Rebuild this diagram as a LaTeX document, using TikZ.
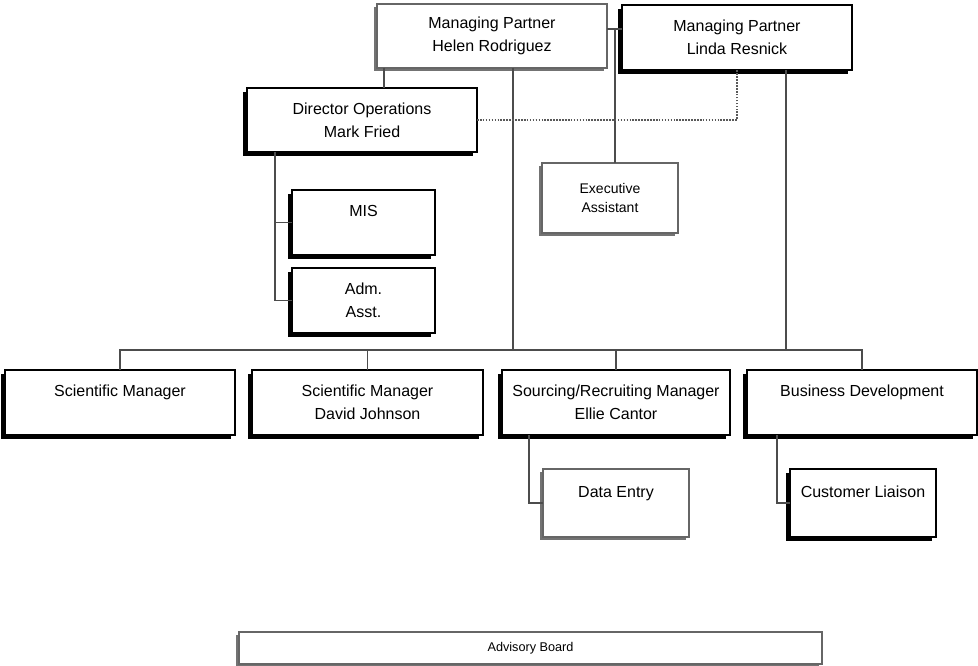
\documentclass[tikz,border=0pt]{standalone}
\usepackage{fontspec}
\setmainfont{Liberation Sans}
\usetikzlibrary{shadows}
\begin{document}
\begin{tikzpicture}[x=0.75pt,y=-0.75pt,
  base/.style={rectangle,inner sep=0pt,outer sep=0pt,align=center,fill=white,
    font=\fontsize{12}{17}\selectfont},
  darkbox/.style={base,draw=black,line width=1.1pt,
    general shadow={fill=black,shadow xshift=-3pt,shadow yshift=-3pt}},
  greybox/.style={base,draw=black!60,line width=1.1pt,
    general shadow={fill=black!55,shadow xshift=-2.5pt,shadow yshift=-2.5pt}},
  conn/.style={draw=black!70,line width=0.9pt},
  dotconn/.style={draw=black!65,line width=0.8pt,dash pattern=on 1.2pt off 1pt}]
\useasboundingbox[fill=white] (0,0) rectangle (978,666);

% top level
\node[greybox,minimum width=172.5pt,minimum height=48pt] (Helen) at (492,36) {Managing Partner\\Helen Rodriguez};
\node[darkbox,minimum width=172.5pt,minimum height=48.75pt] (Linda) at (737,37.5) {Managing Partner\\Linda Resnick};

% second level
\node[darkbox,minimum width=172.5pt,minimum height=48pt] (Dir) at (362,120) {Director Operations\\Mark Fried};
\node[greybox,minimum width=102pt,minimum height=52.5pt,font=\fontsize{10.5}{14}\selectfont] (Exec) at (610,198) {Executive\\Assistant};
\node[darkbox,minimum width=107.25pt,minimum height=48.75pt] (MIS) at (363.5,222.5) {MIS\\\mbox{}};
\node[darkbox,minimum width=107.25pt,minimum height=48.75pt] (Adm) at (363.5,300.5) {Adm.\\Asst.};

% managers
\node[darkbox,minimum width=172.5pt,minimum height=48.75pt] (Sci1) at (120,402.5) {Scientific Manager\\\mbox{}};
\node[darkbox,minimum width=173.25pt,minimum height=48.75pt] (Sci2) at (367.5,402.5) {Scientific Manager\\David Johnson};
\node[darkbox,minimum width=171pt,minimum height=48.75pt] (Src) at (616,402.5) {Sourcing/Recruiting Manager\\Ellie Cantor};
\node[darkbox,minimum width=172.5pt,minimum height=48.75pt] (BD) at (862,402.5) {Business Development\\\mbox{}};

% bottom level
\node[greybox,minimum width=109.5pt,minimum height=51pt] (DE) at (616,503) {Data Entry\\\mbox{}};
\node[darkbox,minimum width=109.5pt,minimum height=51pt] (CL) at (863,503) {Customer Liaison\\\mbox{}};

\node[greybox,minimum width=437.25pt,minimum height=24pt,font=\fontsize{9.5}{12}\selectfont,
  general shadow={fill=black!40,shadow xshift=-1pt,shadow yshift=-1pt}] (Adv) at (530.5,648) {Advisory Board};

% connectors
\draw[conn] (384,0 |- Helen.south) -- (384,0 |- Dir.north);
\draw[conn] (513,0 |- Helen.south) -- (513,350);
\draw[conn] (Helen.east |- 0,29) -- (Linda.west |- 0,29);
\draw[conn] (615,29) -- (615,0 |- Exec.north);
\draw[conn] (786,0 |- Linda.south) -- (786,350);
\draw[conn] (Sci1.north) -- (Sci1.north |- 0,350) -- (BD.north |- 0,350) -- (BD.north);
\draw[conn] (Sci2.north) -- (Sci2.north |- 0,350);
\draw[conn] (Src.north) -- (Src.north |- 0,350);
\draw[dotconn] (Dir.east) -| (Linda.south);
\draw[conn] (275,0 |- Dir.south) |- (MIS.west);
\draw[conn] (275,0 |- Dir.south) |- (Adm.west);
\draw[conn] (529,0 |- Src.south) |- (DE.west);
\draw[conn] (777,0 |- BD.south) |- (CL.west);
\end{tikzpicture}
\end{document}
